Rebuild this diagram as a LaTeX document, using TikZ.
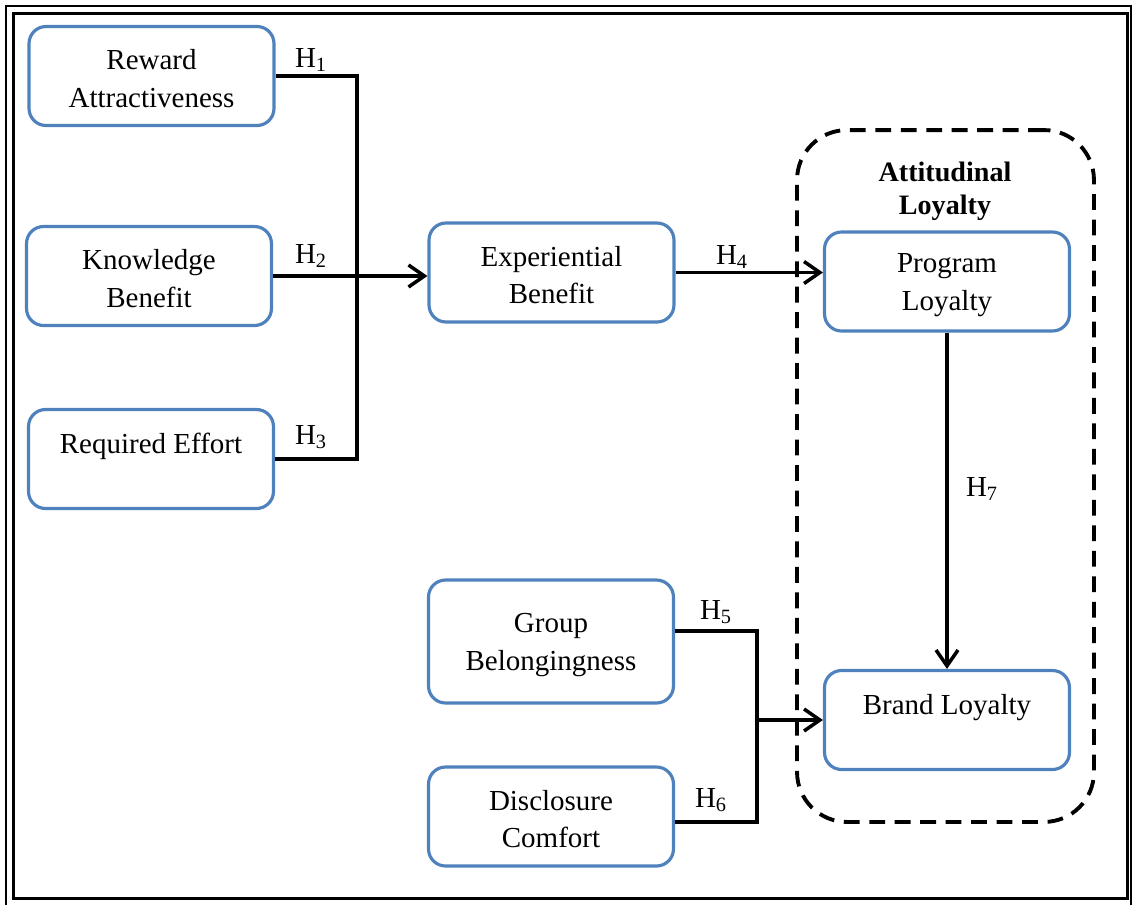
\documentclass[tikz,border=0pt]{standalone}
\usepackage{fontspec}
\setmainfont{Liberation Serif}
\usetikzlibrary{arrows.meta}
\newcommand{\firstlinegap}{\rule{0pt}{14.5pt}}
\begin{document}
\begin{tikzpicture}[x=0.02cm,y=-0.02cm,
  box/.style={draw=boxblue, line width=1.8pt, rounded corners=0.34cm, align=center,
    minimum width=4.9cm, minimum height=1.98cm, inner sep=0pt,
    font=\fontsize{16.5}{21.5}\selectfont},
  link/.style={line width=2pt, black},
  arr/.style={link, -{Straight Barb[length=9pt,width=12.5pt]}},
  hyp/.style={inner sep=0pt, font=\fontsize{16.5}{20}\selectfont},
  group/.style={draw, dashed, line width=2.2pt, dash pattern=on 9pt off 5.5pt,
    rounded corners=1cm, minimum width=5.94cm, minimum height=13.84cm, inner sep=0pt},
  title/.style={align=center, inner sep=0pt, font=\fontsize{16}{18.7}\selectfont\bfseries}]
\definecolor{boxblue}{HTML}{4F81BD}
\useasboundingbox (0,0) rectangle (1134,904);

% double frame around the model
\draw[line width=1.1pt] (6,6) rectangle (1131,910);
\draw[line width=1.8pt] (13.5,13.5) rectangle (1127.5,898.5);

% attitudinal loyalty group
\node[group] (att) at (945.5,476) {};
\node[title] (atttitle) at (945,191.5) {Attitudinal\\Loyalty};

% constructs
\node[box] (rew) at (151.5,76) {\firstlinegap Reward\\Attractiveness};
\node[box] (kno) at (149,276) {\firstlinegap Knowledge\\Benefit};
\node[box] (req) at (151,459) {\strut Required Effort\\\mbox{}};
\node[box] (exp) at (551.5,272.5) {\firstlinegap Experiential\\Benefit};
\node[box] (prog) at (947,281.5) {\firstlinegap Program\\Loyalty};
\node[box, minimum height=2.46cm] (grp) at (551,641.5) {\firstlinegap Group\\Belongingness};
\node[box] (dis) at (551,816.5) {\firstlinegap Disclosure\\Comfort};
\node[box] (brand) at (947,720) {\strut Brand Loyalty\\\mbox{}};

% junctions
\coordinate (jl) at (357,276);
\coordinate (jr) at (757,720);

% paths
\draw[link] (rew.east) -| (jl) |- (req.east);
\draw[arr] (kno.east) -- (kno.east -| exp.west);
\draw[arr] (exp.east) -- (exp.east -| prog.west);
\draw[arr] (prog.south) -- (prog.south |- brand.north);
\draw[link] ([yshift=0.21cm]grp.east) -| (jr) |- ([yshift=-0.11cm]dis.east);
\draw[arr] (jr) -- (jr -| brand.west);

% hypothesis labels
\node[hyp] (h1) at (311,60) {H\textsubscript{1}};
\node[hyp] (h2) at (311,256) {H\textsubscript{2}};
\node[hyp] (h3) at (311,437) {H\textsubscript{3}};
\node[hyp] (h4) at (732,257) {H\textsubscript{4}};
\node[hyp] (h5) at (716,612) {H\textsubscript{5}};
\node[hyp] (h6) at (711,800) {H\textsubscript{6}};
\node[hyp] (h7) at (982,489) {H\textsubscript{7}};
\end{tikzpicture}
\end{document}
